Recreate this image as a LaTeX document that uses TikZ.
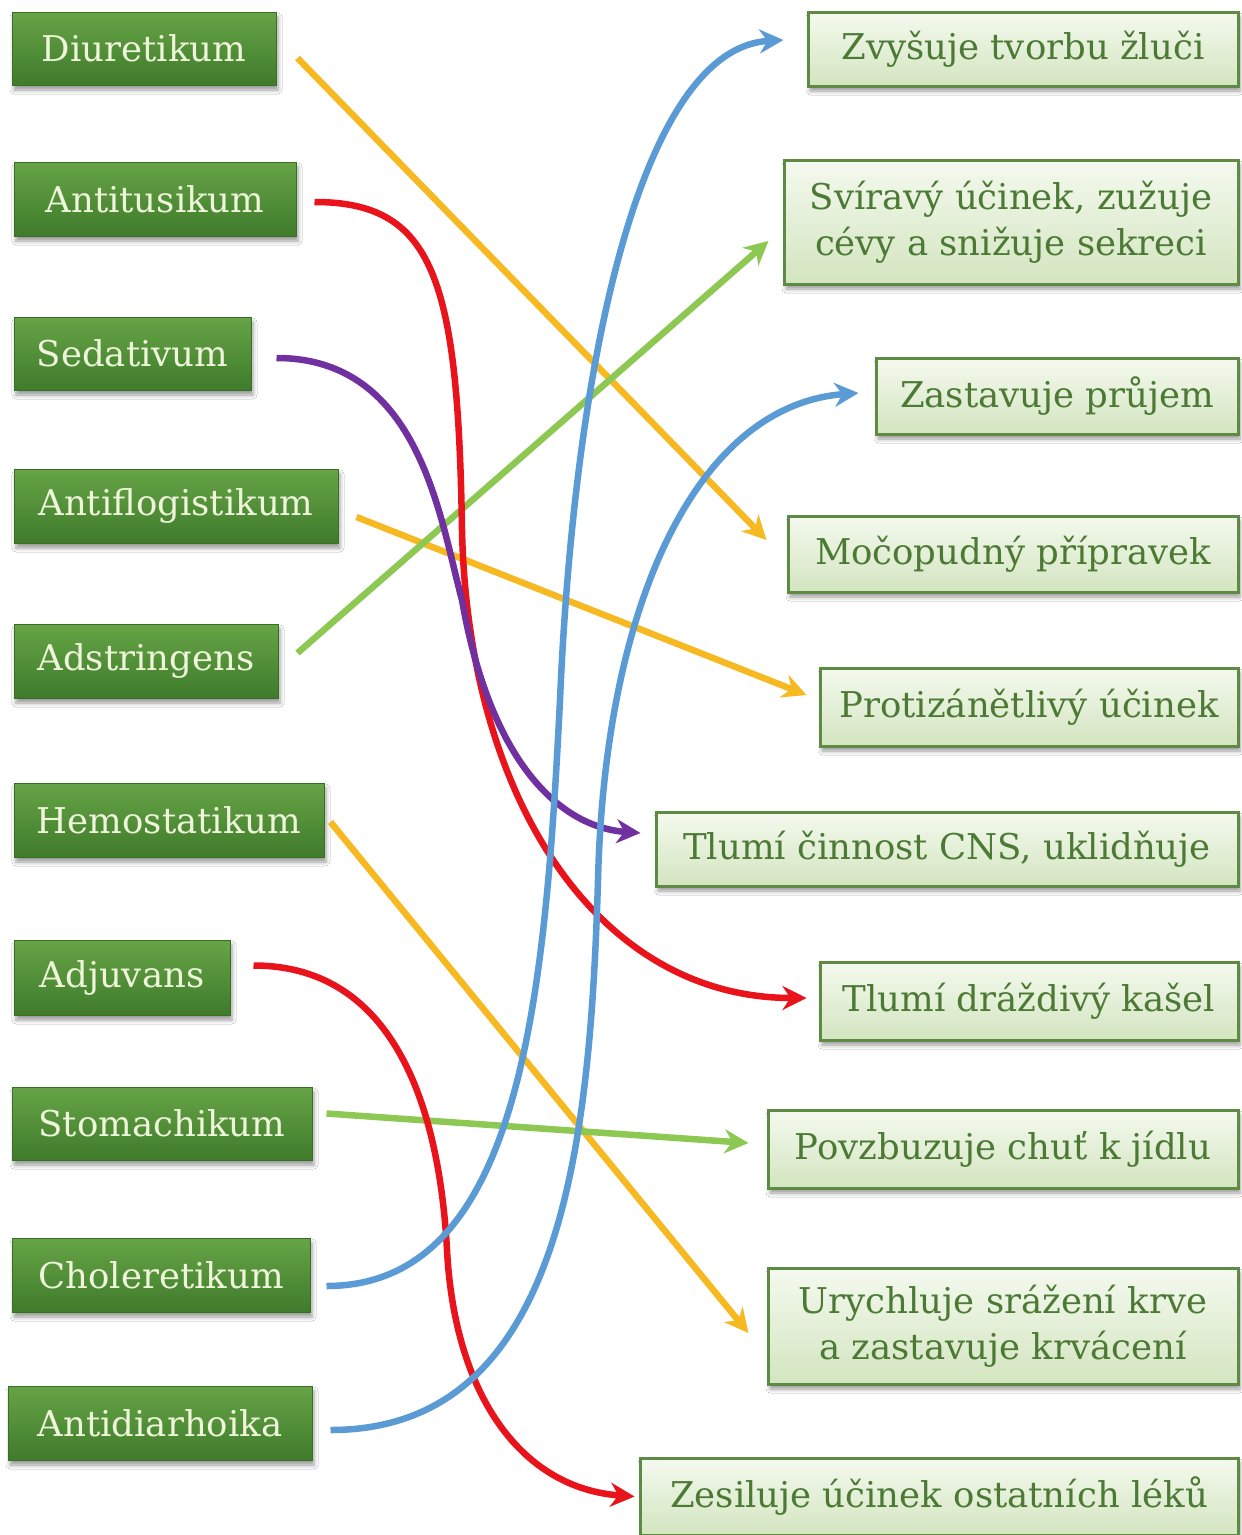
\documentclass[tikz,border=0pt]{standalone}
\usepackage{fontspec}
\setmainfont{DejaVu Serif}
\usetikzlibrary{arrows.meta,shadows.blur}
\definecolor{dkgreenA}{HTML}{66A446}
\definecolor{dkgreenB}{HTML}{3F7B2B}
\definecolor{dkedge}{HTML}{3A6E27}
\definecolor{cream}{HTML}{EEF5DA}
\definecolor{ltgreenA}{HTML}{F4F9EE}
\definecolor{ltgreenB}{HTML}{D3E5C0}
\definecolor{rborder}{HTML}{5E8A43}
\definecolor{rtext}{HTML}{4C7A35}
\definecolor{cYel}{HTML}{F7B922}
\definecolor{cRed}{HTML}{E8131B}
\definecolor{cPur}{HTML}{7030A0}
\definecolor{cGrn}{HTML}{8DC852}
\definecolor{cBlu}{HTML}{5B9BD5}
\tikzset{
  lbox/.style={rectangle, top color=dkgreenA, bottom color=dkgreenB, draw=dkedge, line width=1pt,
    text=cream, font=\fontsize{35.5}{45}\selectfont, inner sep=0pt,
    blur shadow={shadow xshift=2pt, shadow yshift=-5pt, shadow blur radius=4pt, shadow opacity=40}},
  rbox/.style={rectangle, top color=ltgreenA, bottom color=ltgreenB, draw=rborder, line width=3pt,
    text=rtext, font=\fontsize{35.5}{46}\selectfont, inner sep=0pt, align=center,
    blur shadow={shadow xshift=2pt, shadow yshift=-5pt, shadow blur radius=4pt, shadow opacity=40}},
  conn/.style={line width=6.5pt, -{Stealth[length=24pt,width=24pt]}},
}
\begin{document}
\begin{tikzpicture}[x=1pt,y=-1pt]
\fill[white] (0,0) rectangle (1242,1535);
\useasboundingbox (0,0) rectangle (1242,1535);
% left boxes
\node[lbox, minimum width=264pt, minimum height=73pt] (diur) at (144,48.5) {Diuretikum};
\node[lbox, minimum width=282pt, minimum height=74pt] (anti) at (155,199) {Antitusikum};
\node[lbox, minimum width=237pt, minimum height=73pt] (seda) at (132.5,353.5) {Sedativum};
\node[lbox, minimum width=324pt, minimum height=74pt] (aflo) at (176,506) {Antiflogistikum};
\node[lbox, minimum width=264pt, minimum height=74pt] (adst) at (146,661) {Adstringens};
\node[lbox, minimum width=310pt, minimum height=74pt] (hemo) at (169,820) {Hemostatikum};
\node[lbox, minimum width=216pt, minimum height=75pt] (adju) at (122,977.5) {Adjuvans};
\node[lbox, minimum width=300pt, minimum height=73pt] (stom) at (162,1123.5) {Stomachikum};
\node[lbox, minimum width=298pt, minimum height=74pt] (chol) at (161,1275) {Choleretikum};
\node[lbox, minimum width=304pt, minimum height=74pt] (adia) at (160,1423) {Antidiarhoika};
% right boxes
\node[rbox, minimum width=430pt, minimum height=74pt] (zluc) at (1023,49) {Zvyšuje tvorbu žluči};
\node[rbox, minimum width=454pt, minimum height=124pt] (svir) at (1011,222) {Svíravý účinek, zužuje\\cévy a snižuje sekreci};
\node[rbox, minimum width=362pt, minimum height=76pt] (zast) at (1057,396) {Zastavuje průjem};
\node[rbox, minimum width=450pt, minimum height=76pt] (moco) at (1013,554) {Močopudný přípravek};
\node[rbox, minimum width=418pt, minimum height=78pt] (prot) at (1029,707) {Protizánětlivý účinek};
\node[rbox, minimum width=582pt, minimum height=74pt] (tcns) at (947,849) {Tlumí činnost CNS, uklidňuje};
\node[rbox, minimum width=418pt, minimum height=78pt] (kase) at (1029,1001) {Tlumí dráždivý kašel};
\node[rbox, minimum width=470pt, minimum height=78pt] (povz) at (1003,1149) {Povzbuzuje chuť k jídlu};
\node[rbox, minimum width=470pt, minimum height=116pt] (urych) at (1003,1326) {Urychluje srážení krve\\a zastavuje krvácení};
\node[rbox, minimum width=598pt, minimum height=77pt] (zesi) at (939,1496.5) {Zesiluje účinek ostatních léků};
% straight connectors
\draw[conn, cYel] ([xshift=21pt,yshift=-9.5pt]diur.east) -- ([xshift=-20pt,yshift=14pt]moco.west);
\draw[conn, cYel] ([xshift=18pt,yshift=-11pt]aflo.east) -- ([xshift=-12pt,yshift=12pt]prot.west);
\draw[conn, cGrn] ([xshift=19pt,yshift=8pt]adst.east) -- ([xshift=-14pt,yshift=-19pt]svir.west);
\draw[conn, cYel] ([xshift=6pt,yshift=-2pt]hemo.east) -- ([xshift=-18pt,yshift=-7pt]urych.west);
\draw[conn, cGrn] ([xshift=14pt,yshift=10pt]stom.east) -- ([xshift=-18pt,yshift=6pt]povz.west);
% curved connectors
\coordinate (mRedA) at (462,530);
\coordinate (mPur) at (462,600);
\coordinate (mRedB) at (447,1250);
\coordinate (mBluA) at (560,700);
\coordinate (mBluB) at (598,880);
\draw[conn, cRed] ([xshift=18pt,yshift=-3pt]anti.east) .. controls +(120,0) and +(-4,-250) .. (mRedA)
  .. controls +(6,270) and +(-208,0) .. ([xshift=-12pt,yshift=3pt]kase.west);
\draw[conn, cPur] ([xshift=25pt,yshift=-4.5pt]seda.east) .. controls +(144,0) and +(-22,-80) .. (mPur)
  .. controls +(28,160) and +(-82,-6) .. ([xshift=-14pt,yshift=16pt]tcns.west);
\draw[conn, cRed] ([xshift=23pt,yshift=12pt]adju.east) .. controls +(147,0) and +(-7,-130) .. (mRedB)
  .. controls +(8,150) and +(-110,-8) .. ([xshift=-4pt,yshift=0pt]zesi.west);
\draw[conn, cBlu] ([xshift=16pt,yshift=-11pt]chol.east) .. controls +(194,0) and +(-15,300) .. (mBluA)
  .. controls +(15,-350) and +(-140,8) .. ([xshift=-23pt,yshift=9pt]zluc.west);
\draw[conn, cBlu] ([xshift=18pt,yshift=-7pt]adia.east) .. controls +(230,0) and +(-8,270) .. (mBluB)
  .. controls +(7,-280) and +(-160,12) .. ([xshift=-16pt,yshift=3pt]zast.west);
\end{tikzpicture}
\end{document}
